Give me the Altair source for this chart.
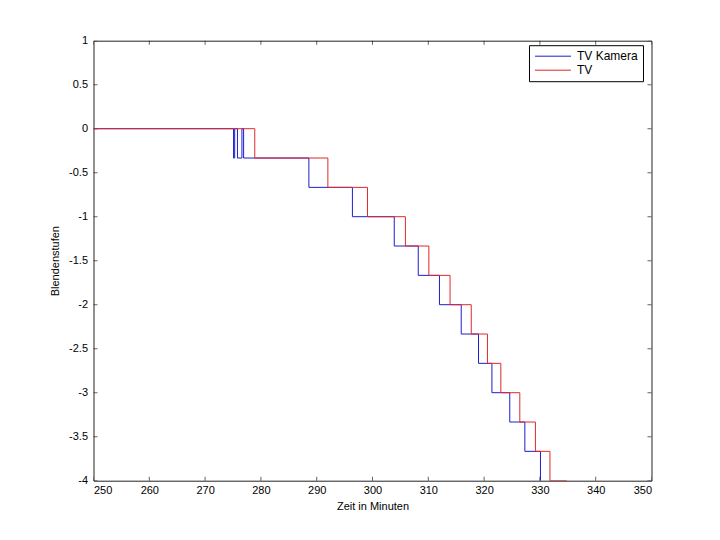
import altair as alt
import pandas as pd

# ---- data ----
STEP = 1.0 / 3.0
start_x = 250.0

# TV Kamera (blue): times (minutes) of level changes and the level after each change (in 1/3 stops)
kam_t = [275.1, 275.3, 275.8, 276.6, 276.9, 288.6, 296.4, 303.9, 308.2, 312.0,
         315.9, 319.0, 321.4, 324.6, 327.3, 330.1]
kam_lvl = [-1, 0, -1, 0, -1, -2, -3, -4, -5, -6, -7, -8, -9, -10, -11, -12]
kam_end = 330.15

# TV (red)
tv_t = [278.9, 292.0, 299.1, 305.9, 310.1, 313.9, 317.7, 320.6, 323.0, 326.4,
        329.2, 331.8]
tv_lvl = [-1, -2, -3, -4, -5, -6, -7, -8, -9, -10, -11, -12]
tv_end = 334.8

x_ticks = list(range(250, 351, 10))
y_ticks = [1, 0.5, 0, -0.5, -1, -1.5, -2, -2.5, -3, -3.5, -4]

series_names = ["TV Kamera", "TV"]
series_colors = ["#1c1cd0", "#e02828"]


def build(name, times, levels, end):
    xs = [start_x] + times + [end]
    ys = [0.0] + [l * STEP for l in levels] + [levels[-1] * STEP]
    return pd.DataFrame({"t": xs, "v": ys, "s": name, "o": range(len(xs))})


df = pd.concat([build("TV Kamera", kam_t, kam_lvl, kam_end),
                build("TV", tv_t, tv_lvl, tv_end)], ignore_index=True)

xs = alt.Scale(domain=[250, 350], nice=False, zero=False)
ys = alt.Scale(domain=[-4, 1], nice=False, zero=False)

FONT = "Liberation Sans"

lines = alt.Chart(df).mark_line(interpolate="step-after", strokeWidth=1, clip=True).encode(
    x=alt.X("t:Q", scale=xs,
            axis=alt.Axis(values=x_ticks, title="Zeit in Minuten", grid=False, ticks=False,
                          domain=False, labelPadding=4, titlePadding=5,
                          labelExpr="datum.value")),
    y=alt.Y("v:Q", scale=ys,
            axis=alt.Axis(values=y_ticks, title="Blendenstufen", grid=False, ticks=False,
                          domain=False, labelPadding=6, titlePadding=8,
                          labelExpr="datum.value")),
    color=alt.Color("s:N", scale=alt.Scale(domain=series_names, range=series_colors),
                    sort=series_names,
                    legend=alt.Legend(title=None, orient="none", legendX=435.5, legendY=4.5,
                                      symbolType="M-9,0H9", symbolSize=16,
                                      symbolStrokeWidth=1, strokeColor="#000000",
                                      fillColor="#ffffff", padding=5, symbolOffset=13,
                                      labelFontSize=12, labelFont=FONT, rowPadding=2,
                                      labelOffset=18)),
    order="o:Q",
)

xt = pd.DataFrame({"x": x_ticks})
yt = pd.DataFrame({"y": y_ticks})

def xtick(ypos):
    return alt.Chart(xt).mark_tick(orient="vertical", size=8, thickness=1, color="#222222",
                                   clip=True).encode(
        x=alt.X("x:Q", scale=xs), y=alt.datum(ypos, scale=ys))

def ytick(xpos):
    return alt.Chart(yt).mark_tick(orient="horizontal", size=8, thickness=1, color="#222222",
                                   clip=True).encode(
        y=alt.Y("y:Q", scale=ys), x=alt.datum(xpos, scale=xs))

chart = alt.layer(
    xtick(-4), xtick(1), ytick(250), ytick(350), lines
).properties(
    width=558, height=440,
    autosize=alt.AutoSizeParams(type="none"),
    padding={"left": 85.5, "top": 32.7, "right": 40, "bottom": 40},
).configure_view(
    stroke="#222222", strokeWidth=1
).configure_axis(
    labelFont=FONT, labelFontSize=11, labelColor="#000000",
    titleFont=FONT, titleFontSize=11, titleColor="#000000", titleFontWeight="normal"
).configure_legend(
    labelColor="#000000"
)

chart.save("out.html", embed_options={"renderer": "svg", "actions": False})
